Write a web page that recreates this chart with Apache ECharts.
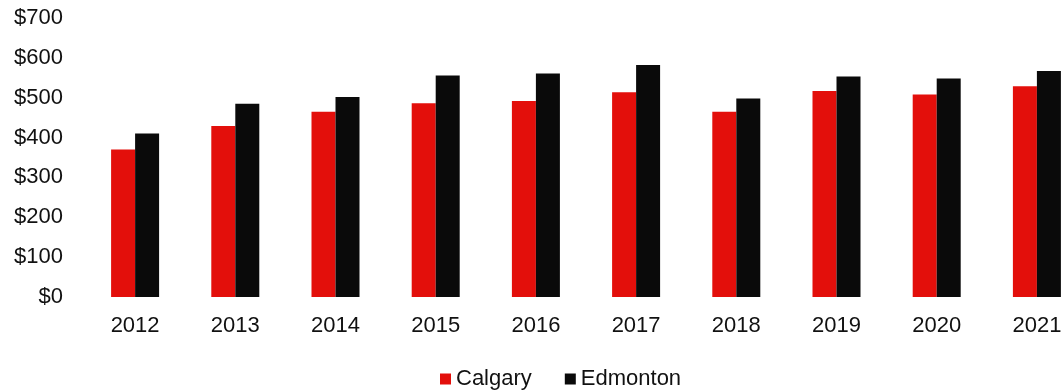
<!DOCTYPE html>
<html><head><meta charset="utf-8">
<script src="https://cdn.jsdelivr.net/npm/echarts@6/dist/echarts.min.js"></script>
<style>html,body{margin:0;padding:0;background:#fff}#c{width:1063px;height:392px}</style>
</head><body><div id="c"></div>
<script>
const categories = ['2012','2013','2014','2015','2016','2017','2018','2019','2020','2021'];
const calgary = [370, 429, 465, 486, 492, 514, 465, 517, 508, 529];
const edmonton = [410, 485, 502, 556, 561, 582, 498, 553, 548, 567];
const yTicks = [0, 100, 200, 300, 400, 500, 600, 700];

const chart = echarts.init(document.getElementById('c'));
const font = '"Liberation Sans", Arial, sans-serif';
chart.setOption({
  animation: false,
  textStyle: { fontFamily: font },
  grid: { left: 85, top: 18, width: 1002, height: 279, containLabel: false, outerBoundsMode: 'none' },
  xAxis: {
    type: 'category', data: categories,
    axisLine: { show: false }, axisTick: { show: false },
    axisLabel: { fontSize: 22, color: '#111', margin: 18, fontFamily: font }
  },
  yAxis: {
    type: 'value', min: yTicks[0], max: yTicks[yTicks.length - 1], interval: 100,
    splitLine: { show: false }, axisLine: { show: false }, axisTick: { show: false },
    axisLabel: { fontSize: 22, color: '#111', margin: 22, fontFamily: font, formatter: v => '$' + v }
  },
  legend: {
    top: 363, left: 435, itemWidth: 11, itemHeight: 11, itemGap: 33,
    icon: 'rect', textStyle: { fontSize: 22, color: '#111', fontFamily: font },
    data: ['Calgary', 'Edmonton']
  },
  series: [
    { name: 'Calgary', type: 'bar', data: calgary, barWidth: 24, barGap: '0%', itemStyle: { color: '#e30f0b' } },
    { name: 'Edmonton', type: 'bar', data: edmonton, barWidth: 24, itemStyle: { color: '#0a0a0a' } }
  ]
});
</script></body></html>
